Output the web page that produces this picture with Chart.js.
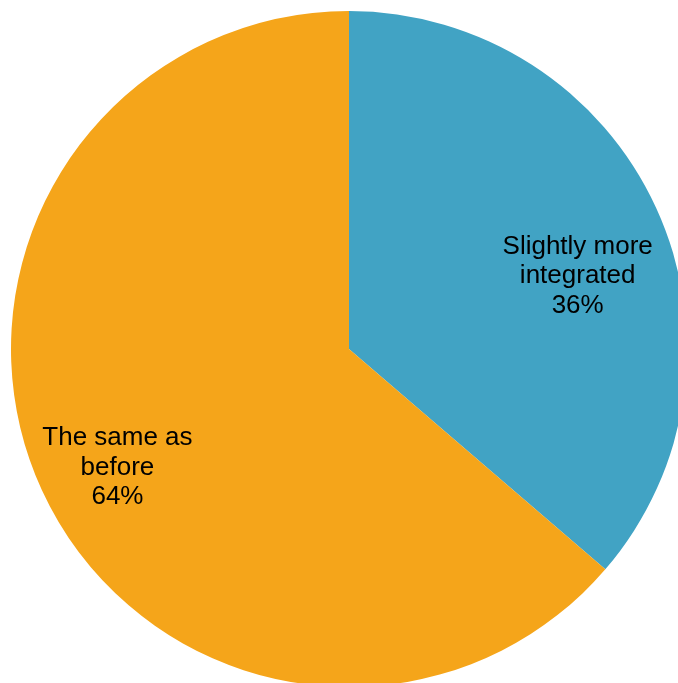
<!DOCTYPE html>
<html>
<head>
<meta charset="utf-8">
<script src="https://cdn.jsdelivr.net/npm/chart.js@4/dist/chart.umd.min.js"></script>
<style>
  html, body { margin: 0; padding: 0; background: #fff; overflow: hidden; }
  #wrap { width: 678px; height: 683px; overflow: hidden; position: relative; }
  canvas { position: absolute; left: 0; top: 0; }
</style>
</head>
<body>
<div id="wrap"><canvas id="myPie" width="698" height="698"></canvas></div>
<script>
// categories and values (labels show rounded %)
var categories = [["Slightly more", "integrated"], ["The same as", "before"]];
var values = [36.3, 63.7];
var colors = ["#41A3C4", "#F5A51A"];

// where each label sits: fraction of radius, small angle shift (degrees)
var labelRadius = [0.71, 0.77];
var labelShift = [7, -2.5];

// draws the category + percent text inside each slice
var sliceLabels = {
    id: "sliceLabels",
    afterDatasetsDraw: function(chart) {
        var ctx = chart.ctx;
        var meta = chart.getDatasetMeta(0);
        var total = values.reduce(function(a, b) { return a + b; }, 0);
        ctx.save();
        ctx.font = "26px 'Liberation Sans', Arial, sans-serif";
        ctx.fillStyle = "#000";
        ctx.textAlign = "center";
        ctx.textBaseline = "middle";
        meta.data.forEach(function(arc, i) {
            var p = arc.getProps(["x", "y", "startAngle", "endAngle", "outerRadius"], true);
            var mid = (p.startAngle + p.endAngle) / 2 + labelShift[i] * Math.PI / 180;
            var r = p.outerRadius * labelRadius[i];
            var cx = p.x + Math.cos(mid) * r;
            var cy = p.y + Math.sin(mid) * r;
            var lines = categories[i].concat([Math.round(values[i] / total * 100) + "%"]);
            var lh = 29.5;
            var top = cy - (lines.length - 1) * lh / 2;
            lines.forEach(function(t, j) {
                ctx.fillText(t, cx, top + j * lh);
            });
        });
        ctx.restore();
    }
};

var ctx = document.getElementById("myPie");
var myPie = new Chart(ctx, {
    type: "pie",
    data: {
        labels: categories.map(function(c) { return c.join(" "); }),
        datasets: [{
            data: values,
            backgroundColor: colors,
            borderWidth: 0
        }]
    },
    options: {
        responsive: false,
        animation: false,
        layout: { padding: 11 },
        plugins: {
            legend: { display: false },
            tooltip: { enabled: false }
        }
    },
    plugins: [sliceLabels]
});
</script>
</body>
</html>
